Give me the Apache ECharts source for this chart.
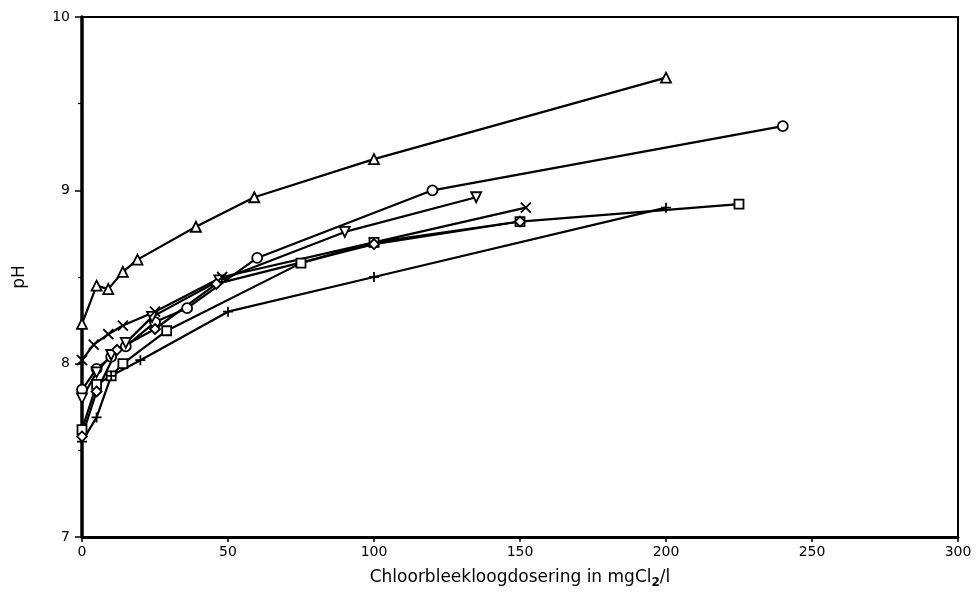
<!DOCTYPE html>
<html>
<head>
<meta charset="utf-8">
<script src="https://cdn.jsdelivr.net/npm/echarts@6/dist/echarts.min.js"></script>
<style>
  html, body { margin: 0; padding: 0; background: #fff; }
  #main { width: 977px; height: 601px; }
</style>
</head>
<body>
<div id="main"></div>
<script>
// dosering (mgCl2/l) en pH per monster
var triangleData = [[0, 8.23], [5, 8.45], [9, 8.43], [14, 8.53], [19, 8.6], [39, 8.79], [59, 8.96], [100, 9.18], [200, 9.65]];
var circleData = [[0, 7.85], [5, 7.97], [10, 8.04], [15, 8.1], [25, 8.24], [36, 8.32], [60, 8.61], [120, 9.0], [240, 9.37]];
var downTriangleData = [[0, 7.8], [5, 7.95], [10, 8.05], [15, 8.12], [24, 8.27], [47, 8.48], [90, 8.76], [135, 8.96]];
var crossData = [[0, 8.02], [4, 8.11], [9, 8.17], [14, 8.22], [25, 8.3], [48, 8.5], [100, 8.7], [152, 8.9]];
var squareData = [[0, 7.62], [5, 7.88], [10, 7.93], [14, 8.0], [29, 8.19], [75, 8.58], [100, 8.7], [150, 8.82], [225, 8.92]];
var plusData = [[0, 7.55], [5, 7.69], [10, 7.93], [20, 8.02], [50, 8.3], [100, 8.5], [200, 8.9]];
var diamondData = [[0, 7.58], [5, 7.84], [12, 8.08], [25, 8.2], [46, 8.46], [100, 8.69], [150, 8.82]];

var xTicks = [0, 50, 100, 150, 200, 250, 300];
var yTicks = [7, 8, 9, 10];

var crossPath = 'path://M0,0L10,10M10,0L0,10';
var plusPath = 'path://M5,0L5,10M0,5L10,5';

function makeSeries(name, data, symbol, size, rotate) {
  return {
    name: name,
    type: 'line',
    data: data,
    symbol: symbol,
    symbolSize: size,
    symbolRotate: rotate || 0,
    showAllSymbol: true,
    lineStyle: { color: '#000', width: 2.2 },
    itemStyle: { color: '#fff', borderColor: '#000', borderWidth: 1.8 },
    emphasis: { disabled: true },
    z: 3
  };
}

var myChart = echarts.init(document.getElementById('main'));

var option = {
  animation: false,
  backgroundColor: '#fff',
  textStyle: { fontFamily: 'DejaVu Sans', color: '#000' },
  grid: {
    left: 82, right: 19, top: 17, bottom: 64,
    show: true,
    borderColor: '#000',
    borderWidth: 2
  },
  xAxis: {
    type: 'value',
    min: 0,
    max: 300,
    interval: 50,
    name: '{a|Chloorbleekloogdosering in mgCl}{s|2}{a|/l}',
    nameLocation: 'middle',
    nameGap: 30,
    nameTextStyle: {
      rich: {
        a: { fontSize: 17, color: '#000', fontFamily: 'DejaVu Sans' },
        s: { fontSize: 12, color: '#000', fontFamily: 'DejaVu Sans', fontWeight: 'bold', padding: [10, 0, 0, 0] }
      }
    },
    axisLine: { lineStyle: { color: '#000', width: 3 } },
    axisTick: { show: true, inside: false, length: 5, lineStyle: { color: '#000', width: 1.5 } },
    axisLabel: {
      fontSize: 14, color: '#000', margin: 8,
      formatter: function (v) { return xTicks.indexOf(v) >= 0 ? String(v) : ''; }
    },
    splitLine: { show: false }
  },
  yAxis: {
    type: 'value',
    min: 7,
    max: 10,
    interval: 1,
    name: 'pH',
    nameLocation: 'middle',
    nameGap: 54,
    nameRotate: 90,
    nameTextStyle: { fontSize: 17, color: '#000' },
    axisLine: { lineStyle: { color: '#000', width: 3.5 } },
    axisTick: { show: true, inside: false, length: 7, lineStyle: { color: '#000', width: 1.5 } },
    minorTick: { show: true, splitNumber: 2, length: 4, lineStyle: { color: '#000', width: 1.2 } },
    axisLabel: {
      fontSize: 14, color: '#000', margin: 12,
      formatter: function (v) { return yTicks.indexOf(v) >= 0 ? String(v) : ''; }
    },
    splitLine: { show: false }
  },
  series: [
    makeSeries('driehoek', triangleData, 'triangle', 10),
    makeSeries('cirkel', circleData, 'circle', 10),
    makeSeries('omgekeerde driehoek', downTriangleData, 'triangle', 10, 180),
    makeSeries('kruis', crossData, crossPath, 10),
    makeSeries('vierkant', squareData, 'rect', 9),
    makeSeries('plus', plusData, plusPath, 10),
    makeSeries('ruit', diamondData, 'diamond', 10)
  ]
};

myChart.setOption(option);
</script>
</body>
</html>
